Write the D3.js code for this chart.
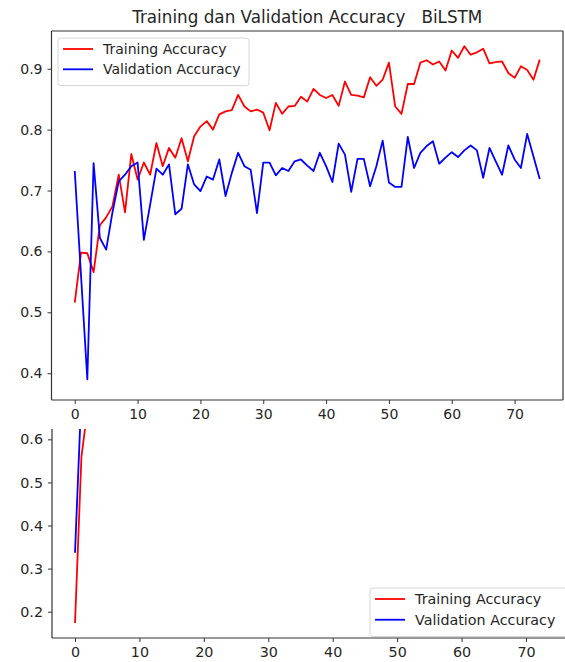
<!DOCTYPE html>
<html>
<head>
<meta charset="utf-8">
<script src="https://cdn.jsdelivr.net/npm/d3@7"></script>
<style>
  body { margin: 0; background: #fff; }
  svg { display: block; font-family: 'DejaVu Sans', sans-serif; }
</style>
</head>
<body>
<div id="chart"></div>
<script>
// Data
const trainAcc = [
  0.516, 0.598, 0.597, 0.566, 0.643, 0.656, 0.674, 0.726, 0.664, 0.760,
  0.718, 0.746, 0.726, 0.778, 0.740, 0.770, 0.754, 0.786, 0.748, 0.789,
  0.805, 0.814, 0.800, 0.825, 0.830, 0.832, 0.857, 0.838, 0.830, 0.833,
  0.828, 0.799, 0.844, 0.826, 0.838, 0.839, 0.854, 0.846, 0.867, 0.857,
  0.852, 0.857, 0.839, 0.879, 0.857, 0.856, 0.853, 0.886, 0.872, 0.882,
  0.910, 0.838, 0.826, 0.875, 0.875, 0.910, 0.914, 0.907, 0.912, 0.897,
  0.930, 0.918, 0.937, 0.923, 0.927, 0.933, 0.909, 0.911, 0.912, 0.893,
  0.885, 0.904, 0.898, 0.882, 0.915
];
const valAcc = [
  0.732, 0.560, 0.390, 0.745, 0.622, 0.603, 0.664, 0.715, 0.726, 0.740,
  0.746, 0.619, 0.677, 0.736, 0.726, 0.743, 0.661, 0.670, 0.743, 0.710,
  0.699, 0.723, 0.718, 0.751, 0.691, 0.729, 0.762, 0.740, 0.734, 0.663,
  0.746, 0.746, 0.725, 0.737, 0.732, 0.748, 0.751, 0.741, 0.732, 0.762,
  0.740, 0.714, 0.777, 0.759, 0.698, 0.752, 0.752, 0.707, 0.740, 0.782,
  0.713, 0.706, 0.706, 0.788, 0.737, 0.762, 0.773, 0.781, 0.744, 0.754,
  0.763, 0.755, 0.766, 0.774, 0.766, 0.721, 0.770, 0.748, 0.726, 0.774,
  0.751, 0.737, 0.793, 0.756, 0.719
];
// second (cropped) panel: only the first epochs are visible
const trainAcc2 = [0.174, 0.560, 0.676];
const valAcc2 = [0.337, 0.705];

const xTicks = [0, 10, 20, 30, 40, 50, 60, 70];
const yTicksTop = [0.4, 0.5, 0.6, 0.7, 0.8, 0.9];
const yTicksBottom = [0.2, 0.3, 0.4, 0.5, 0.6];
const seriesNames = ['Training Accuracy', 'Validation Accuracy'];
const seriesColors = ['#ff0000', '#0000ff'];

const width = 565, height = 662;
const svg = d3.select('#chart').append('svg')
  .attr('width', width).attr('height', height);

const axisColor = '#333';
const textColor = '#262626';

function drawPanel(opts) {
  const { x, y, series, yTicks, clipId, spines, fontSize } = opts;
  const [x0, x1] = x.range();
  const [yb, yt] = y.range();

  const g = svg.append('g');

  g.append('clipPath').attr('id', clipId)
    .append('rect')
    .attr('x', x0).attr('y', yt)
    .attr('width', x1 - x0).attr('height', yb - yt);

  const line = d3.line()
    .x((d, i) => x(i))
    .y(d => y(d));

  g.append('g').attr('clip-path', `url(#${clipId})`)
    .selectAll('path')
    .data(series)
    .enter()
    .append('path')
    .attr('d', d => line(d.values))
    .style('fill', 'none')
    .style('stroke', d => d.color)
    .style('stroke-width', 1.8)
    .style('stroke-linejoin', 'round');

  // x axis
  const xAxis = g.append('g')
    .attr('transform', `translate(0,${yb})`)
    .call(d3.axisBottom(x).tickValues(xTicks).tickSize(4).tickPadding(5).tickFormat(d3.format('d')));
  // y axis
  const yAxis = g.append('g')
    .attr('transform', `translate(${x0},0)`)
    .call(d3.axisLeft(y).tickValues(yTicks).tickSize(4).tickPadding(5).tickFormat(d3.format('.1f')));

  [xAxis, yAxis].forEach(a => {
    a.select('.domain').remove();
    a.selectAll('line').style('stroke', axisColor).style('stroke-width', 1);
    a.selectAll('text')
      .style('fill', textColor)
      .style('font-size', fontSize + 'px')
      .style('font-family', "'DejaVu Sans', sans-serif");
  });

  // spines
  const sp = g.append('g')
    .style('stroke', axisColor)
    .style('stroke-width', 1.2);
  if (spines.includes('left')) sp.append('line').attr('x1', x0).attr('x2', x0).attr('y1', yt).attr('y2', yb);
  if (spines.includes('bottom')) sp.append('line').attr('x1', x0).attr('x2', x1).attr('y1', yb).attr('y2', yb);
  if (spines.includes('right')) sp.append('line').attr('x1', x1).attr('x2', x1).attr('y1', yt).attr('y2', yb);
  if (spines.includes('top')) sp.append('line').attr('x1', x0).attr('x2', x1).attr('y1', yt).attr('y2', yt);

  return g;
}

function drawLegend(g, left, top, w, fontSize, series) {
  const rowH = fontSize * 1.45;
  const h = rowH * series.length + 7;
  g.append('rect')
    .attr('x', left).attr('y', top)
    .attr('width', w).attr('height', h)
    .attr('rx', 3)
    .style('fill', 'rgba(255,255,255,0.85)')
    .style('stroke', '#d6d6d6')
    .style('stroke-width', 1);

  const item = g.selectAll('.legend-item')
    .data(series)
    .enter()
    .append('g')
    .attr('transform', (d, i) => `translate(${left + 5},${top + 11 + i * rowH})`);

  item.append('line')
    .attr('x1', 0).attr('x2', 30)
    .style('stroke', d => d.color)
    .style('stroke-width', 1.8);

  item.append('text')
    .attr('x', 40)
    .attr('dy', '0.35em')
    .style('font-size', fontSize + 'px')
    .style('fill', textColor)
    .text(d => d.name);
}

// ---- top panel ----
const xTop = d3.scaleLinear().domain([-3.7, 77.7]).range([51.5, 563]);
const yTop = d3.scaleLinear().domain([0.356, 0.962]).range([400, 31]);
const topSeries = [
  { name: seriesNames[0], color: seriesColors[0], values: trainAcc },
  { name: seriesNames[1], color: seriesColors[1], values: valAcc }
];
const gTop = drawPanel({
  x: xTop, y: yTop, series: topSeries, yTicks: yTicksTop,
  clipId: 'clip-top', spines: ['left', 'bottom', 'right', 'top'], fontSize: 14
});
drawLegend(gTop, 58, 38, 191, 14, topSeries);

svg.append('text')
  .attr('x', (51.5 + 563) / 2)
  .attr('y', 23)
  .attr('text-anchor', 'middle')
  .attr('xml:space', 'preserve')
  .style('white-space', 'pre')
  .style('font-size', '16.8px')
  .style('fill', textColor)
  .text('Training dan Validation Accuracy   BiLSTM');

// ---- bottom panel (cropped in the reference) ----
const xBot = d3.scaleLinear().domain([-3.57, 77.7]).range([52, 575.6]);
const yBot = d3.scaleLinear().domain([0.139, 0.624]).range([638, 429]);
const botSeries = [
  { name: seriesNames[0], color: seriesColors[0], values: trainAcc2 },
  { name: seriesNames[1], color: seriesColors[1], values: valAcc2 }
];
const gBot = drawPanel({
  x: xBot, y: yBot, series: botSeries, yTicks: yTicksBottom,
  clipId: 'clip-bot', spines: ['left', 'bottom'], fontSize: 14.3
});
drawLegend(gBot, 370, 588, 200, 14.3, botSeries);
</script>
</body>
</html>
